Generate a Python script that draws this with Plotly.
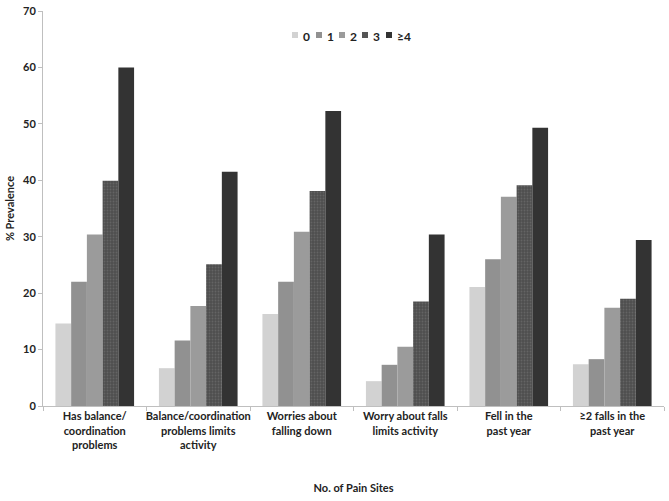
import plotly.graph_objects as go

categories = [
    "Has balance/<br>coordination<br>problems",
    "Balance/coordination<br>problems limits<br>activity",
    "Worries about<br>falling down",
    "Worry about falls<br>limits activity",
    "Fell in the<br>past year",
    "≥2 falls in the<br>past year",
]
series_names = ["0", "1", "2", "3", "≥4"]
values_0 = [14.6, 6.7, 16.3, 4.4, 21.1, 7.4]
values_1 = [22.0, 11.6, 22.0, 7.3, 26.0, 8.3]
values_2 = [30.4, 17.7, 30.9, 10.5, 37.1, 17.4]
values_3 = [39.9, 25.1, 38.1, 18.5, 39.1, 19.0]
values_4 = [60.0, 41.5, 52.3, 30.4, 49.3, 29.4]
series_values = [values_0, values_1, values_2, values_3, values_4]

colors = ["#d2d2d2", "#919191", "#9b9b9b", "#555555", "#333333"]

FONT = "Lato"

fig = go.Figure()
for i, (name, vals) in enumerate(zip(series_names, series_values)):
    marker = dict(color=colors[i], line=dict(width=0))
    if i == 3:
        marker["pattern"] = dict(shape=".", bgcolor="#4e4e4e", fgcolor="#7a7a7a",
                                 size=3, solidity=0.3, fillmode="overlay")
    fig.add_trace(go.Bar(x=categories, y=vals, name=name, marker=marker,
                         showlegend=False))

# manual compact legend
L, R, T, B = 43, 5, 11, 95
W, H = 669, 501
pw, ph = W - L - R, H - T - B
leg_x = [292, 316, 339, 362, 386]
for i, name in enumerate(series_names):
    x0 = (leg_x[i] - L) / pw
    x1 = (leg_x[i] + 6 - L) / pw
    y0 = (406 - 38) / ph
    y1 = (406 - 32) / ph
    fig.add_shape(type="rect", xref="paper", yref="paper", x0=x0, x1=x1, y0=y0, y1=y1,
                  fillcolor=colors[i], line=dict(width=0))
    fig.add_annotation(xref="paper", yref="paper", x=(leg_x[i] + 9 - L) / pw,
                       y=(406 - 36) / ph, text="<b>%s</b>" % name, showarrow=False,
                       xanchor="left", yanchor="middle",
                       font=dict(family=FONT, size=12, color="#222222"))

fig.update_layout(
    width=W, height=H,
    margin=dict(l=L, r=R, t=T, b=B),
    paper_bgcolor="white", plot_bgcolor="white",
    barmode="group", bargap=0.24, bargroupgap=0,
    font=dict(family=FONT, size=11, color="#222222"),
)
fig.update_xaxes(
    automargin=False, tickangle=0,
    showline=True, linecolor="#bfbfbf", linewidth=1,
    ticks="outside", tickson="boundaries", ticklen=4, tickcolor="#bfbfbf",
    tickfont=dict(family=FONT, size=11, color="#222222", weight="bold"),
    title=dict(text="<b>No. of Pain Sites</b>", font=dict(family=FONT, size=11, color="#222222"),
               standoff=34),
    showgrid=False,
)
fig.update_yaxes(
    automargin=False,
    range=[0, 70], dtick=10,
    showline=True, linecolor="#bfbfbf", linewidth=1,
    ticks="outside", ticklen=4, tickcolor="#bfbfbf",
    tickfont=dict(family=FONT, size=11, color="#222222", weight="bold"),
    title=dict(text="<b>% Prevalence</b>", font=dict(family=FONT, size=11, color="#222222"),
               standoff=6),
    showgrid=False, zeroline=False,
)

fig.write_html("out.html", config={"displayModeBar": False},
               post_script="document.body.style.margin='0';")
